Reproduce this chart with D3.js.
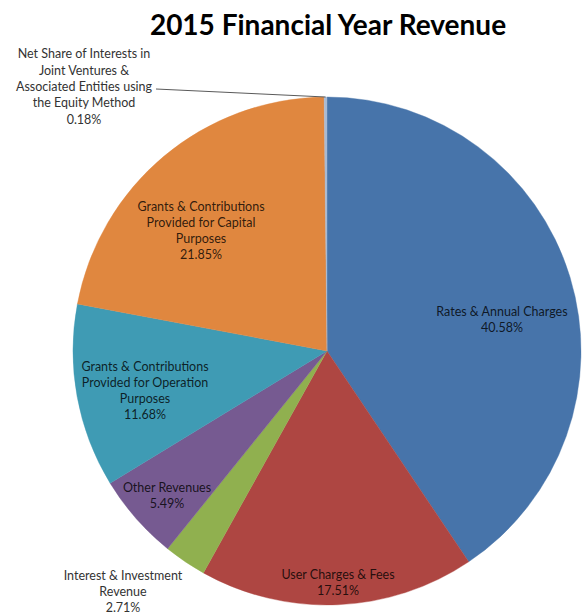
<!DOCTYPE html>
<html>
<head>
<meta charset="utf-8">
<script src="https://cdn.jsdelivr.net/npm/d3@7"></script>
<style>
  html, body { margin: 0; padding: 0; background: #fff; }
  svg { display: block; }
  text { font-family: Lato, "Open Sans", sans-serif; }
</style>
</head>
<body>
<svg id="chart" width="583" height="614"></svg>
<script>
// Revenue categories in drawing order (clockwise from 12 o'clock)
const categories = [
  "Rates & Annual Charges",
  "User Charges & Fees",
  "Interest & Investment Revenue",
  "Other Revenues",
  "Grants & Contributions Provided for Operation Purposes",
  "Grants & Contributions Provided for Capital Purposes",
  "Net Share of Interests in Joint Ventures & Associated Entities using the Equity Method"
];
// Share of total revenue, percent
const shares = [40.58, 17.51, 2.71, 5.49, 11.68, 21.85, 0.18];
// Label lines as printed on the chart
const labelLines = [
  ["Rates & Annual Charges"],
  ["User Charges & Fees"],
  ["Interest & Investment", "Revenue"],
  ["Other Revenues"],
  ["Grants & Contributions", "Provided for Operation", "Purposes"],
  ["Grants & Contributions", "Provided for Capital", "Purposes"],
  ["Net Share of Interests in", "Joint Ventures &", "Associated Entities using", "the Equity Method"]
];
const colors = ["#4774aa", "#ae4642", "#90b04f", "#765a91", "#3f9bb4", "#e0873f", "#a9bad3"];

// label anchor points (centre of the text block) and whether the label sits outside the pie
const labelPos = [
  { x: 502, y: 320, out: false },
  { x: 338, y: 583, out: false },
  { x: 123, y: 592, out: true },
  { x: 167, y: 496, out: false },
  { x: 145, y: 391, out: false },
  { x: 201, y: 231, out: false },
  { x: 84, y: 87, out: true }
];

const svg = d3.select("#chart");
const cx = 327, cy = 351, r = 254;

svg.append("text")
  .attr("x", 328).attr("y", 35)
  .attr("text-anchor", "middle")
  .attr("font-weight", "bold")
  .attr("font-size", 28)
  .attr("fill", "#000")
  .text("2015 Financial Year Revenue");

const data = categories.map((c, i) => ({ name: c, value: shares[i], i }));
const pie = d3.pie().value(d => d.value).sort(null).startAngle(0).endAngle(2 * Math.PI);
const arc = d3.arc().innerRadius(0).outerRadius(r);

const g = svg.append("g").attr("transform", `translate(${cx},${cy})`);
const arcs = pie(data);
g.selectAll("path")
  .data(arcs)
  .join("path")
  .attr("d", arc)
  .attr("fill", d => colors[d.data.i])
  .attr("stroke", d => colors[d.data.i])
  .attr("stroke-width", 0.4);

// leader line for the tiny equity-method slice
const tiny = arcs[6];
const midA = (tiny.startAngle + tiny.endAngle) / 2;
const edge = [cx + Math.sin(midA) * r, cy - Math.cos(midA) * r];
svg.append("path")
  .attr("d", d3.line()([[156, 89], [edge[0], edge[1]]]))
  .attr("stroke", "#5a5a5a")
  .attr("stroke-width", 1)
  .attr("fill", "none");

const lh = 16.3;
labelPos.forEach((p, i) => {
  const lines = labelLines[i].concat([shares[i].toFixed(2) + "%"]);
  const n = lines.length;
  const t = svg.append("text")
    .attr("text-anchor", "middle")
    .attr("font-size", 12.5)
    .attr("fill", p.out ? "#333" : "#000")
    .attr("fill-opacity", p.out ? 1 : 0.8);
  lines.forEach((ln, k) => {
    t.append("tspan")
      .attr("x", p.x)
      .attr("y", p.y + (k - (n - 1) / 2) * lh + 4)
      .text(ln);
  });
});
</script>
</body>
</html>
